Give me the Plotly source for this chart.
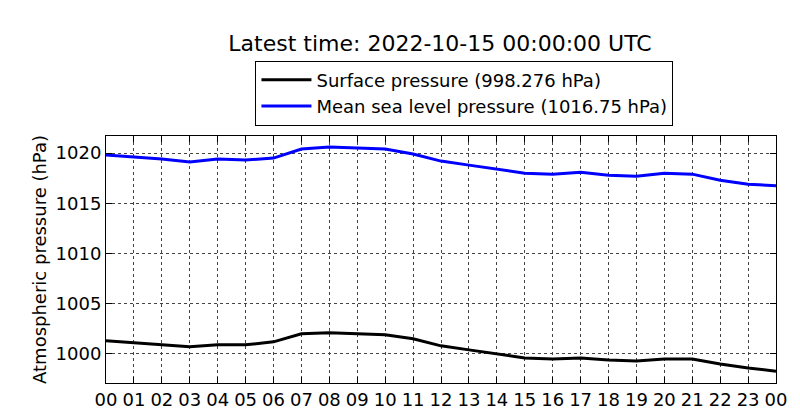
import plotly.graph_objects as go

hours = list(range(25))
tick_labels = ["%02d" % h for h in range(24)] + ["00"]
mslp = [1019.8,1019.6,1019.4,1019.1,1019.4,1019.3,1019.5,1020.4,1020.6,1020.5,1020.4,1019.9,
        1019.2,1018.8,1018.4,1018.0,1017.9,1018.1,1017.8,1017.7,1018.0,1017.9,1017.3,1016.9,1016.75]
surface = [1001.3,1001.1,1000.9,1000.7,1000.9,1000.9,1001.2,1002.0,1002.1,1002.0,1001.9,1001.5,
           1000.8,1000.4,1000.0,999.6,999.5,999.6,999.4,999.3,999.5,999.5,999.0,998.6,998.276]

fig = go.Figure()
fig.add_trace(go.Scatter(x=hours, y=surface, mode="lines", line=dict(color="black", width=3),
                         name="Surface pressure (998.276 hPa)"))
fig.add_trace(go.Scatter(x=hours, y=mslp, mode="lines", line=dict(color="blue", width=3),
                         name="Mean sea level pressure (1016.75 hPa)"))
ax = dict(showline=True, linecolor="black", linewidth=1, mirror="ticks", ticks="inside",
          ticklen=6, tickcolor="black", showgrid=True, gridcolor="#444", griddash="dot",
          gridwidth=0.6, zeroline=False, tickfont=dict(size=18, color="black"))
fig.update_xaxes(range=[0, 24], tickvals=hours, ticktext=tick_labels, automargin=False, **ax)
fig.update_yaxes(range=[997.1, 1021.7], tickvals=[1000, 1005, 1010, 1015, 1020], automargin=False,
                 title=dict(text="Atmospheric pressure (hPa)", font=dict(size=18, color="black"), standoff=4), **ax)
fig.update_layout(
    width=800, height=420, plot_bgcolor="white", paper_bgcolor="white",
    font=dict(family="DejaVu Sans", color="black"),
    margin=dict(l=98, r=32, t=128, b=45, autoexpand=False),
    title=dict(text="Latest time: 2022-10-15 00:00:00 UTC", x=0.54, xanchor="center",
               y=1 - 35/420, yanchor="middle", font=dict(size=22, color="black")),
    legend=dict(x=0.535, xanchor="center", y=1.174, yanchor="middle", bordercolor="black",
                borderwidth=1, font=dict(size=18), bgcolor="white", tracegroupgap=0,
                itemwidth=50),
    showlegend=True,
)
fig.write_html("out.html")
